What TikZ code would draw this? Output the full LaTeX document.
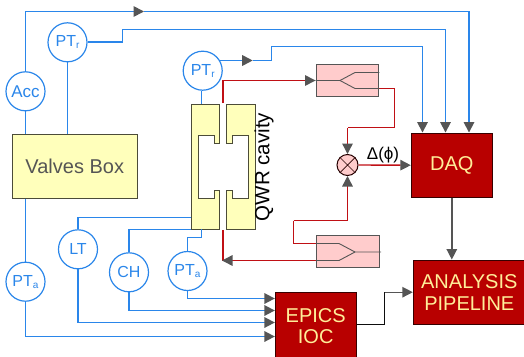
\documentclass[tikz,border=0pt]{standalone}
\usepackage{fontspec}
\setmainfont{Liberation Sans}
\usetikzlibrary{arrows.meta}
\definecolor{bl}{HTML}{2A86EA}
\definecolor{rd}{HTML}{B80000}
\definecolor{rdln}{HTML}{C01015}
\definecolor{txty}{HTML}{FFEE99}
\definecolor{yel}{HTML}{FFFFBB}
\definecolor{pk}{HTML}{FFCCCC}
\definecolor{gr}{HTML}{555555}
\tikzset{
  fs/.style={font=\fontsize{#1}{#1}\selectfont},
  sensor/.style={draw=bl,line width=1.2pt,circle,fill=white,minimum size=39pt,inner sep=0pt,text=bl,fs=16},
  redbox/.style={draw=black!70!rd,line width=1pt,fill=rd,text=txty,inner sep=0pt,align=center,fs=20},
  ybox/.style={draw=black!70!yel,line width=1pt,fill=yel,inner sep=0pt,text=gr,fs=20},
  bline/.style={draw=bl,line width=1.7pt},
  rline/.style={draw=rdln,line width=1.4pt},
  gline/.style={draw=gr,line width=1.4pt},
  fork/.style={draw=gr,line width=0.9pt},
  tip/.style={-{Triangle[length=10.5pt,width=10.5pt,color=gr]}},
  pinkbox/.style={draw=gr,line width=1pt,fill=pk,inner sep=0pt},
  cavshape/.style={draw=black!70!yel,line width=1pt,fill=yel},
}
\newcommand{\subsc}[1]{\fontsize{10}{10}\selectfont\raisebox{-2pt}{#1}}
\begin{document}
\begin{tikzpicture}[x=1pt,y=-1pt]
\useasboundingbox (0,0) rectangle (524,356);
% sensors and boxes
\node[ybox,minimum width=125.5pt,minimum height=63.5pt] (valves) at (74.75,166.25) {Valves Box};
\node[inner sep=0pt,minimum width=64pt,minimum height=125pt] (cav) at (223,166.5) {};
\node[sensor,fs=17] (acc) at (25.5,91.3) {Acc};
\node[sensor] (ptr1) at (67.5,42.3) {PT\subsc{r}};
\node[sensor] (ptr2) at (202.7,70.7) {PT\subsc{r}};
\node[sensor] (lt) at (78,249.3) {LT};
\node[sensor] (ch) at (129,272.3) {CH};
\node[sensor] (pta2) at (187.5,271) {PT\subsc{a}};
\node[sensor] (pta1) at (25.5,281.7) {PT\subsc{a}};
\node[redbox,minimum width=81pt,minimum height=64.3pt] (daq) at (451.8,165.2) {DAQ};
\node[redbox,minimum width=112pt,minimum height=64.3pt] (ana) at (469.3,292.2) {ANALYSIS\\[2pt]PIPELINE};
\node[redbox,minimum width=80.7pt,minimum height=66pt] (epics) at (315.7,325.7) {EPICS\\[1pt]IOC};
\node[pinkbox,minimum width=62.7pt,minimum height=31.7pt] (pk1) at (347.4,80.2) {};
\node[pinkbox,minimum width=63pt,minimum height=32pt] (pk2) at (347.8,251.7) {};
\node[draw=black!80!rd,line width=1pt,fill=pk,circle,minimum size=21pt,inner sep=0pt] (mix) at (347.5,165) {};
\draw[black!80!rd,line width=.7pt] (mix.45)--(mix.225) (mix.135)--(mix.315);
% cavity
\draw[cavshape] (191,104)--(219.5,104)--(219.5,143)--(214,143)--(214,135)--(198,135)--(198,198)--(214,198)--(214,190)--(219.5,190)--(219.5,229)--(191,229)--cycle;
\draw[cavshape] (255,104)--(226.5,104)--(226.5,143)--(232,143)--(232,135)--(248,135)--(248,198)--(232,198)--(232,190)--(226.5,190)--(226.5,229)--(255,229)--cycle;
\node[rotate=90,fs=20.5] (qwr) at (264,167) {QWR cavity};
\node[fs=17] (dphi) at (383,155) {Δ(ϕ)};
% blue connectors
\coordinate (v1) at (25.5,134.5);
\coordinate (v2) at (67.5,134.5);
\coordinate (t0) at (25.5,11.5);
\coordinate (t0m) at (144,11.5);
\coordinate (t1) at (469,11.5);
\coordinate (t2a) at (122.5,29.5);
\coordinate (t2b) at (445.5,29.5);
\coordinate (p3a) at (219,60.5);
\coordinate (p3m) at (252.7,60.5);
\coordinate (t3a) at (271.5,46.5);
\coordinate (t3b) at (422.5,46.5);
\coordinate (ctop) at (201.5,104);
\coordinate (cbot) at (201.5,229);
\coordinate (cl1) at (191,217.5);
\coordinate (cl2) at (191,229.5);
\coordinate (y1) at (0,298.5);
\coordinate (y2) at (0,310.5);
\coordinate (y3) at (0,322.5);
\coordinate (y4) at (0,336.5);
\coordinate (y5) at (0,237.5);
\draw[bline] (valves.north -| v1) -- (acc.south);
\draw[bline,tip] (acc.north) -- (t0) -- (t0m);
\draw[bline,tip] (t0m) -| (t1 |- daq.north);
\draw[bline] (valves.north -| v2) -- (ptr1.south);
\draw[bline,tip] (ptr1.east) -| (t2a) -- (t2b) -- (t2b |- daq.north);
\draw[bline] (ctop) -- (ctop |- ptr2.south);
\draw[bline,tip] (p3a) -- (p3m);
\draw[bline,tip] (p3m) -| (t3a) -- (t3b) -- (t3b |- daq.north);
\draw[bline] (valves.south -| v1) -- (pta1.north);
\draw[bline,tip] (pta1.south) |- (epics.west |- y4);
\draw[bline] (lt.north) |- (cl1);
\draw[bline,tip] (lt.south) |- (epics.west |- y3);
\draw[bline] (ch.north) |- (cl2);
\draw[bline,tip] (ch.south) |- (epics.west |- y2);
\draw[bline] (pta2.north) |- (cbot |- y5) -- (cbot);
\draw[bline,tip] (pta2.south) |- (epics.west |- y1);
% red connectors
\coordinate (stub1) at (223,103);
\coordinate (stub1b) at (223,80.5);
\coordinate (stub2) at (223,230);
\coordinate (rr1) at (394.5,88.5);
\coordinate (rr2) at (394.5,127.5);
\coordinate (rl1) at (293.5,220.5);
\coordinate (rl2) at (293.5,243.5);
\coordinate (y6) at (0,260.5);
\coordinate (tipl) at (222,260.5);
\draw[rline,tip] (stub1) -- (stub1b) -- (pk1.west |- stub1b);
\draw[rline] (pk1.east |- rr1) -- (rr1) -- (rr2) -- (mix.north |- rr2);
\draw[rline,tip] (mix.north |- rr2) -- (mix.north);
\draw[rline] (stub2) -- (stub2 |- y6);
\draw[rline,tip] (pk2.west |- y6) -- (tipl);
\draw[rline,tip] (rl1) -- (mix.south |- rl1) -- (mix.south);
\draw[rline] (rl1) -- (rl2) -- (pk2.west |- rl2);
\draw[rline,tip] (mix.east) -- (daq.west);
% pink box interior
\coordinate (f1) at (340,80.5);
\coordinate (f2) at (355,72.5);
\coordinate (f3) at (355,88.5);
\coordinate (f4) at (339,243.5);
\coordinate (f5) at (339,260.5);
\coordinate (f6) at (355,252);
\coordinate (f7) at (381,252);
\draw[fork] (pk1.west |- f1) -- (f1) -- (f2) -- (pk1.east |- f2);
\draw[fork] (f1) -- (f3) -- (pk1.east |- f3);
\draw[fork] (pk2.west |- f4) -- (f4) -- (f6) -- (f7);
\draw[fork] (pk2.west |- f5) -- (f5) -- (f6);
% grey connectors
\coordinate (e1) at (0,324.7);
\draw[gline,tip] (daq.south) -- (daq.south |- ana.north);
\coordinate (g1) at (384.5,292.2);
\draw[black!85!gr,line width=1.3pt] (epics.east |- e1) -| (g1);
\draw[gline,tip] (g1) -- (ana.west);
\end{tikzpicture}
\end{document}
